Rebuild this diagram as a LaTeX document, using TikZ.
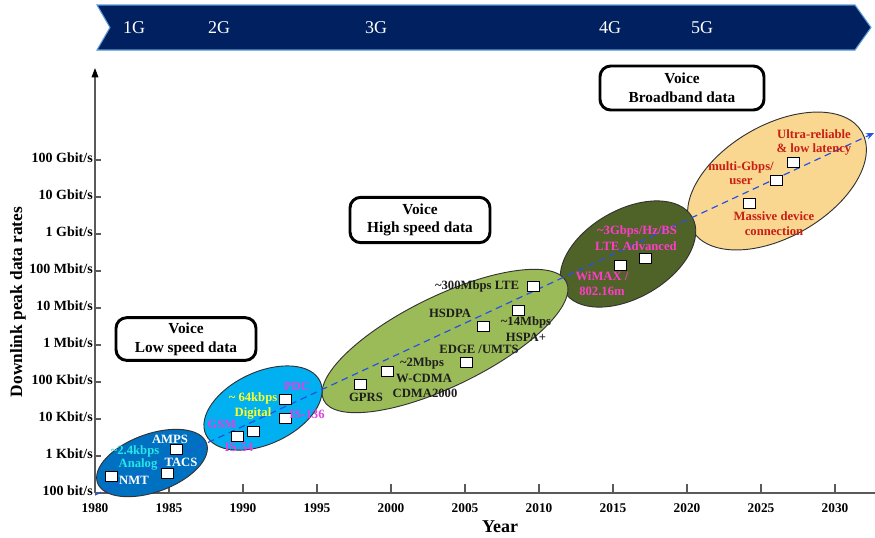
\documentclass[tikz,border=0pt]{standalone}
\usepackage{fontspec}
\setmainfont{Liberation Serif}
\usetikzlibrary{arrows.meta,shapes.geometric}
\definecolor{navy}{RGB}{0,32,96}
\definecolor{bannerEdge}{RGB}{91,155,213}
\definecolor{eOne}{RGB}{0,112,192}
\definecolor{eTwo}{RGB}{0,176,240}
\definecolor{eThree}{RGB}{155,187,89}
\definecolor{eFour}{RGB}{79,98,40}
\definecolor{eFive}{RGB}{250,215,145}
\definecolor{cyanT}{RGB}{40,230,230}
\definecolor{yellowT}{RGB}{255,255,40}
\definecolor{magTwo}{RGB}{224,64,224}
\definecolor{magFour}{RGB}{255,60,200}
\definecolor{redT}{RGB}{200,30,20}
\definecolor{darkT}{RGB}{30,30,30}
\definecolor{axisC}{RGB}{90,90,90}
\definecolor{dashC}{RGB}{40,80,230}
\tikzset{
  ell/.style={ellipse, draw=black!80, line width=0.7pt, inner sep=0pt},
  sq/.style={draw=black, fill=white, line width=0.6pt, minimum width=9pt, minimum height=7.5pt, inner sep=0pt},
  lbl/.style={inner sep=0pt, font=\fontsize{9.5}{11}\selectfont\bfseries},
  vbox/.style={draw=black, line width=2.2pt, rounded corners=8pt, fill=white, align=center, inner sep=0pt,
     font=\fontsize{11.5}{14}\selectfont\bfseries},
  ylab/.style={anchor=east, inner sep=0pt, font=\fontsize{10.5}{12}\selectfont\bfseries},
  xlab/.style={inner sep=0pt, font=\fontsize{10}{12}\selectfont\bfseries},
  glab/.style={inner sep=0pt, text=white, font=\fontsize{13.5}{15}\selectfont}
}
\begin{document}
\begin{tikzpicture}[x=0.75pt,y=-0.75pt]
\useasboundingbox (0,0) rectangle (875,537);
% banner
\draw[fill=navy, draw=bannerEdge, line width=0.8pt]
  (97,5) -- (855,5) -- (871,27.5) -- (855,50) -- (97,50) -- (110,27.5) -- cycle;
\node[glab] (g1) at (134,28) {1G};
\node[glab] (g2) at (219,28) {2G};
\node[glab] (g3) at (376,28) {3G};
\node[glab] (g4) at (610,28) {4G};
\node[glab] (g5) at (702,28) {5G};
% axes
\coordinate (O) at (95,493);
\coordinate (ytop) at (95,68);
\coordinate (xend) at (875,493);
\draw[axisC, line width=0.9pt] (O) -- (xend);
\draw[axisC, line width=0.9pt, -{Triangle[length=7pt,width=5pt,black]}] (O) -- (ytop);
\foreach \k/\t in {0/{100 bit/s},1/{1 Kbit/s},2/{10 Kbit/s},3/{100 Kbit/s},4/{1 Mbit/s},5/{10 Mbit/s},6/{100 Mbit/s},7/{1 Gbit/s},8/{10 Gbit/s},9/{100 Gbit/s}}{
  \coordinate (yt\k) at (95,493-37*\k);
  \draw[axisC, line width=0.8pt] (yt\k) -- ++(6,0);
  \node[ylab] (yl\k) at (93,491-37*\k) {\t};
}
\foreach \k/\t in {0/1980,1/1985,2/1990,3/1995,4/2000,5/2005,6/2010,7/2015,8/2020,9/2025,10/2030}{
  \coordinate (xt\k) at (95+74*\k,493);
  \draw[axisC, line width=0.8pt] (xt\k) -- ++(0,-9);
  \node[xlab] (xl\k) at (95+74*\k,508) {\t};
}
\node[inner sep=0pt, font=\fontsize{13.5}{15}\selectfont\bfseries] (year) at (500,527) {Year};
\node[inner sep=0pt, rotate=90, font=\fontsize{13}{15}\selectfont\bfseries] (ylabel) at (18,302) {Downlink peak data rates};
% ellipses (later eras underneath)
\node[ell, fill=eFive, minimum width=147pt, minimum height=84pt, rotate=30] (e5) at (777,181) {};
\node[ell, fill=eFour, minimum width=111pt, minimum height=66pt, rotate=30] (e4) at (628,254) {};
\node[ell, fill=eThree, minimum width=202.5pt, minimum height=67.5pt, rotate=26] (e3) at (445,341) {};
\node[ell, fill=eTwo, minimum width=94.5pt, minimum height=54pt, rotate=25] (e2) at (263,408) {};
\node[ell, fill=eOne, minimum width=87pt, minimum height=43.5pt, rotate=20] (e1) at (152,463) {};
% trend line
\coordinate (ds) at (95,495);
\coordinate (de) at (874,133);
\draw[dashC, line width=0.9pt, dash pattern=on 5pt off 3.5pt, -{Stealth[length=6pt,width=5pt]}] (ds) -- (de);
% boxes
\node[vbox, minimum width=105pt, minimum height=32pt] (b1) at (186,339) {Voice\\Low speed data};
\node[vbox, minimum width=105pt, minimum height=34pt] (b2) at (420,220) {Voice\\High speed data};
\node[vbox, minimum width=123pt, minimum height=33pt] (b3) at (682,88) {Voice\\Broadband data};
% 1G
\node[sq] (s11) at (111,476) {};
\node[sq] (s12) at (167,473) {};
\node[sq] (s13) at (176,449) {};
\node[lbl, text=white] at (170,439) {AMPS};
\node[lbl, text=cyanT] at (135,451) {\textasciitilde 2.4kbps};
\node[lbl, text=cyanT] at (138,464) {Analog};
\node[lbl, text=white] at (181,462) {TACS};
\node[lbl, text=white] at (134,480) {NMT};
% 2G
\node[sq] (s21) at (285,399) {};
\node[sq] (s22) at (285,418) {};
\node[sq] (s23) at (253,431) {};
\node[sq] (s24) at (237,436) {};
\node[lbl, text=magTwo] at (297,386) {PDC};
\node[lbl, text=yellowT] at (253,398) {\textasciitilde{} 64kbps};
\node[lbl, text=yellowT] at (253,413) {Digital};
\node[lbl, text=magTwo] at (307,414) {IS-136};
\node[lbl, text=magTwo] at (222,424) {GSM};
\node[lbl, text=magTwo] at (239,447) {IS-54};
% 3G
\node[sq] (s31) at (533,286) {};
\node[sq] (s32) at (518,310) {};
\node[sq] (s33) at (483,326) {};
\node[sq] (s34) at (466,362) {};
\node[sq] (s35) at (387,371) {};
\node[sq] (s36) at (360,384) {};
\node[lbl, text=darkT] at (477,286) {\textasciitilde 300Mbps LTE};
\node[lbl, text=darkT] at (450,313) {HSDPA};
\node[lbl, text=darkT] at (526,322) {\textasciitilde 14Mbps};
\node[lbl, text=darkT] at (526,337) {HSPA+};
\node[lbl, text=darkT] at (479,349) {EDGE /UMTS};
\node[lbl, text=darkT] at (422,363) {\textasciitilde 2Mbps};
\node[lbl, text=darkT] at (424,378) {W-CDMA};
\node[lbl, text=darkT] at (425,393) {CDMA2000};
\node[lbl, text=darkT] at (366,397) {GPRS};
% 4G
\node[sq] (s41) at (645,258) {};
\node[sq] (s42) at (620,265) {};
\node[lbl, text=magFour] at (637,231) {\textasciitilde 3Gbps/Hz/BS};
\node[lbl, text=magFour] at (636,246) {LTE Advanced};
\node[lbl, text=magFour] at (602,276) {WiMAX /};
\node[lbl, text=magFour] at (602,291) {802.16m};
% 5G
\node[sq] (s51) at (793,162) {};
\node[sq] (s52) at (776,180) {};
\node[sq] (s53) at (749,203) {};
\node[lbl, text=redT] at (814,134) {Ultra-reliable};
\node[lbl, text=redT] at (814,149) {\& low latency};
\node[lbl, text=redT] at (741,167) {multi-Gbps/};
\node[lbl, text=redT] at (741,182) {user};
\node[lbl, text=redT] at (774,216) {Massive device};
\node[lbl, text=redT] at (774,231) {connection};
\end{tikzpicture}
\end{document}
